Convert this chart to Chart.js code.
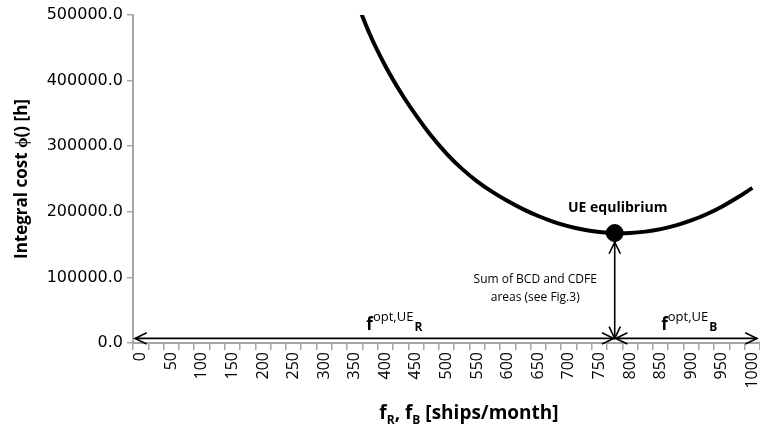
<!DOCTYPE html>
<html>
<head>
<meta charset="utf-8">
<script src="https://cdn.jsdelivr.net/npm/chart.js@4.4.1/dist/chart.umd.min.js"></script>
<style>
  html, body { margin: 0; padding: 0; background: #fff; }
  #wrap { width: 760px; height: 433px; }
</style>
</head>
<body>
<div id="wrap"><canvas id="costChart" width="760" height="433"></canvas></div>
<script>
// flows f_R, f_B [ships/month], one category every 25, labelled every 50
const xLabels = ['0', '25', '50', '75', '100', '125', '150', '175', '200', '225',
    '250', '275', '300', '325', '350', '375', '400', '425', '450', '475',
    '500', '525', '550', '575', '600', '625', '650', '675', '700', '725',
    '750', '775', '800', '825', '850', '875', '900', '925', '950', '975', '1000'];

// integral cost phi() [h] (off the top of the chart below 350)
const costValues = [null, null, null, null, null, null, null, null, null, null,
    null, null, null, null, 528300, 469800, 422300, 382300, 347300, 315800,
    288800, 265800, 246500, 230300, 216400, 204100, 193600, 184800, 177800, 172600,
    169300, 167600, 167800, 169800, 173600, 179300, 186800, 196300, 207800, 221300, 236400];

// UE equilibrium
const ueFlow = 775;
const ueCost = 167600;
const uePoint = xLabels.map(l => (+l === ueFlow ? ueCost : null));

const yTicks = [0, 100000, 200000, 300000, 400000, 500000];

// annotation anchors (data units)
const arrowLevel = 7000;
const ueLabelCost = 206000;
const noteLines = ['Sum of BCD and CDFE', 'areas (see Fig.3)'];
const noteFlow = 645;
const noteCosts = [96000, 68500];
const fLabels = [{ flow: 369, sub: 'R' }, { flow: 851, sub: 'B' }];
const fLabelCost = 19500;

const AXIS_GREY = '#a5a5a5';
const FONT = '"Open Sans", sans-serif';

function head(ctx, fx, fy, tx, ty) {
    const ang = Math.atan2(ty - fy, tx - fx);
    const len = 13, spread = 0.45;
    ctx.beginPath();
    ctx.moveTo(tx - len * Math.cos(ang - spread), ty - len * Math.sin(ang - spread));
    ctx.lineTo(tx, ty);
    ctx.lineTo(tx - len * Math.cos(ang + spread), ty - len * Math.sin(ang + spread));
    ctx.stroke();
}

function doubleArrow(ctx, x1, y1, x2, y2) {
    ctx.beginPath();
    ctx.moveTo(x1, y1);
    ctx.lineTo(x2, y2);
    ctx.stroke();
    head(ctx, x2, y2, x1, y1);
    head(ctx, x1, y1, x2, y2);
}

function fLabel(ctx, x0, yb, sub) {
    ctx.textAlign = 'left';
    ctx.textBaseline = 'alphabetic';
    ctx.font = 'bold 17px ' + FONT;
    ctx.fillText('f', x0, yb);
    const w1 = ctx.measureText('f').width;
    ctx.font = '13px ' + FONT;
    ctx.fillText('opt,UE', x0 + w1, yb - 9);
    const w2 = ctx.measureText('opt,UE').width;
    ctx.font = 'bold 12px ' + FONT;
    ctx.fillText(sub, x0 + w1 + w2 + 1, yb + 1);
}

const annotations = {
    id: 'annotations',
    afterDraw(chart) {
        const { ctx, chartArea, scales: { x, y } } = chart;
        const px = v => x.getPixelForValue(v / 25);
        const ueX = px(ueFlow);
        const ueY = y.getPixelForValue(ueCost);
        const baseY = y.getPixelForValue(arrowLevel);

        ctx.save();
        ctx.strokeStyle = '#000';
        ctx.fillStyle = '#000';
        ctx.lineWidth = 1.6;
        doubleArrow(ctx, chartArea.left + 2, baseY, ueX - 1, baseY);
        doubleArrow(ctx, ueX + 1, baseY, chartArea.right - 3, baseY);
        doubleArrow(ctx, ueX, baseY, ueX, ueY + 9);

        ctx.textAlign = 'center';
        ctx.textBaseline = 'middle';
        ctx.font = 'bold 14px ' + FONT;
        ctx.fillText('UE equlibrium', ueX + 3, y.getPixelForValue(ueLabelCost));

        ctx.font = '12px ' + FONT;
        noteLines.forEach((t, i) => ctx.fillText(t, px(noteFlow), y.getPixelForValue(noteCosts[i])));

        fLabels.forEach(f => fLabel(ctx, px(f.flow), y.getPixelForValue(fLabelCost), f.sub));

        // x axis title with subscripts
        const parts = [
            { t: 'f', sub: false }, { t: 'R', sub: true }, { t: ', f', sub: false },
            { t: 'B', sub: true }, { t: ' [ships/month]', sub: false }
        ];
        const mainFont = 'bold 19px ' + FONT, subFont = 'bold 12px ' + FONT;
        let total = 0;
        parts.forEach(p => { ctx.font = p.sub ? subFont : mainFont; p.w = ctx.measureText(p.t).width; total += p.w; });
        let cx = 469 - total / 2;
        ctx.textAlign = 'left';
        ctx.textBaseline = 'alphabetic';
        parts.forEach(p => {
            ctx.font = p.sub ? subFont : mainFont;
            ctx.fillText(p.t, cx, p.sub ? 424 : 419);
            cx += p.w;
        });
        ctx.restore();
    }
};

const ctx = document.getElementById('costChart').getContext('2d');
new Chart(ctx, {
    type: 'line',
    data: {
        labels: xLabels,
        datasets: [{
            data: costValues,
            borderColor: '#000',
            borderWidth: 4,
            pointRadius: 0,
            tension: 0.4,
            fill: false
        }, {
            data: uePoint,
            showLine: false,
            pointRadius: 8.5,
            pointBackgroundColor: '#000',
            pointBorderColor: '#000'
        }]
    },
    options: {
        responsive: false,
        animation: false,
        layout: { autoPadding: false, padding: { top: 15, right: 0, bottom: 0, left: 0 } },
        plugins: { legend: { display: false }, tooltip: { enabled: false } },
        scales: {
            x: {
                offset: true,
                grid: { offset: true, drawOnChartArea: false, color: AXIS_GREY, lineWidth: 1.5, tickLength: 7 },
                border: { color: AXIS_GREY, width: 2 },
                ticks: {
                    autoSkip: false,
                    maxRotation: 90,
                    minRotation: 90,
                    padding: 2,
                    color: '#000',
                    font: { family: 'Open Sans', size: 16 },
                    callback: function (val) {
                        const l = this.getLabelForValue(val);
                        return (+l) % 50 === 0 ? l : '';
                    }
                },
                afterFit(s) { s.height = 90; s.paddingLeft = 0; s.paddingRight = 0; }
            },
            y: {
                min: 0,
                max: 500000,
                afterBuildTicks(s) { s.ticks = yTicks.map(v => ({ value: v })); },
                grid: { drawOnChartArea: false, color: AXIS_GREY, lineWidth: 1.5, tickLength: 6 },
                border: { color: AXIS_GREY, width: 2 },
                ticks: {
                    color: '#000',
                    padding: 4,
                    font: { family: 'DejaVu Sans', size: 16 },
                    callback: v => v.toFixed(1)
                },
                title: {
                    display: true,
                    text: 'Integral cost \u03d5() [h]',
                    color: '#000',
                    font: { family: 'Open Sans', size: 17, weight: 'bold' },
                    padding: { top: 12, bottom: 0 }
                },
                afterFit(s) { s.width = 133; }
            }
        }
    },
    plugins: [annotations]
});
</script>
</body>
</html>
